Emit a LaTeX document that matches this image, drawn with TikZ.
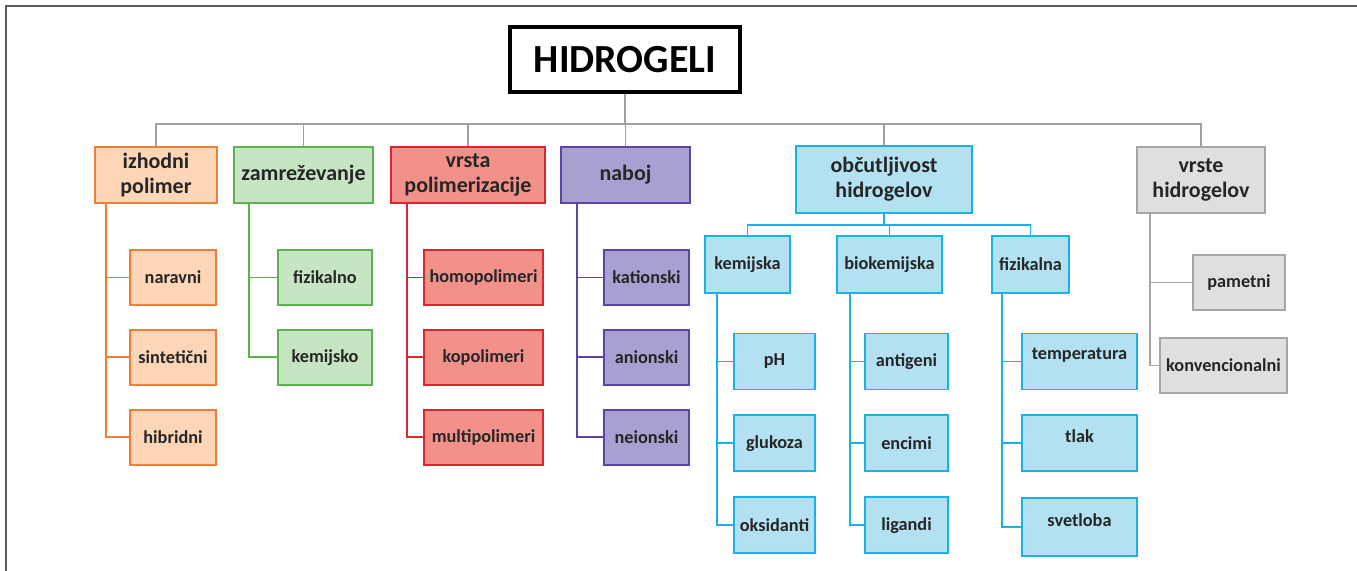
\documentclass[tikz,border=0pt]{standalone}
\usepackage{fontspec}
\setmainfont{Carlito}
\usepackage{tikz}
\usetikzlibrary{positioning,calc}

\definecolor{orgline}{HTML}{EF7D3A}
\definecolor{orgfill}{HTML}{FCD6B6}
\definecolor{grnline}{HTML}{5DB14E}
\definecolor{grnfill}{HTML}{C6E5C3}
\definecolor{redline}{HTML}{D7282F}
\definecolor{redfill}{HTML}{F2918A}
\definecolor{purline}{HTML}{5F43A6}
\definecolor{purfill}{HTML}{A9A0D2}
\definecolor{bluline}{HTML}{1AB2E6}
\definecolor{blufill}{HTML}{B3E1F1}
\definecolor{gryline}{HTML}{A5A5A5}
\definecolor{gryfill}{HTML}{DFDFDF}
\definecolor{busline}{HTML}{A0A0A0}
\definecolor{frameline}{HTML}{5A5A5A}
\definecolor{txt}{HTML}{262626}

\begin{document}
\begin{tikzpicture}[
  x=0.02cm, y=-0.02cm,
  every node/.style={font=\bfseries\fontsize{10.4}{12}\selectfont, text=txt},
  box/.style={draw, rectangle, line width=1.1pt, align=center, inner sep=1pt},
  head/.style={box, font=\bfseries\fontsize{12.5}{14.2}\selectfont, minimum height=1.12cm},
  leaf/.style={box, minimum height=1.1cm},
  upleaf/.style={leaf, text depth=0.3cm},
  conn/.style={line width=1.1pt}
]
\useasboundingbox (0,0) rectangle (1357,571);
\draw[frameline, line width=1.3pt] (6,571) -- (6,6) -- (1357,6);

% root
\node[draw, rectangle, line width=1.8pt, minimum width=4.6cm, minimum height=1.3cm,
  font=\bfseries\fontsize{22.7}{26}\selectfont, text=black] (root) at (625,59.5) {HIDROGELI};

% second level
\node[head, draw=orgline, fill=orgfill, minimum width=2.44cm] (izhodni) at (156,175) {izhodni\\polimer};
\node[head, draw=grnline, fill=grnfill, minimum width=2.78cm] (zamrez) at (303.5,175) {zamreževanje};
\node[head, draw=redline, fill=redfill, minimum width=3.08cm] (vrsta) at (468,175) {vrsta\\polimerizacije};
\node[head, draw=purline, fill=purfill, minimum width=2.58cm] (naboj) at (625.5,175) {naboj};
\node[head, draw=bluline, fill=blufill, minimum width=3.52cm, minimum height=1.34cm] (obcut) at (884,179.5) {občutljivost\\hidrogelov};
\node[head, draw=gryline, fill=gryfill, minimum width=2.56cm, minimum height=1.32cm] (vrste) at (1201,180) {vrste\\hidrogelov};

% izhodni polimer
\node[leaf, draw=orgline, fill=orgfill, minimum width=1.72cm] (naravni) at (173,277.5) {naravni};
\node[leaf, draw=orgline, fill=orgfill, minimum width=1.72cm, below=0.46cm of naravni] (sinteticni) {sintetični};
\node[leaf, draw=orgline, fill=orgfill, minimum width=1.72cm, below=0.46cm of sinteticni] (hibridni) {hibridni};

% zamrezevanje
\node[leaf, draw=grnline, fill=grnfill, minimum width=1.88cm] (fizikalno) at (325,277.5) {fizikalno};
\node[leaf, draw=grnline, fill=grnfill, minimum width=1.88cm, below=0.46cm of fizikalno] (kemijsko) {kemijsko};

% vrsta polimerizacije
\node[leaf, draw=redline, fill=redfill, minimum width=2.38cm] (homo) at (483.5,277.5) {homopolimeri};
\node[leaf, draw=redline, fill=redfill, minimum width=2.38cm, below=0.46cm of homo] (kopo) {kopolimeri};
\node[leaf, draw=redline, fill=redfill, minimum width=2.38cm, below=0.46cm of kopo] (multi) {multipolimeri};

% naboj
\node[leaf, draw=purline, fill=purfill, minimum width=1.7cm] (kation) at (646.5,277.5) {kationski};
\node[leaf, draw=purline, fill=purfill, minimum width=1.7cm, below=0.46cm of kation] (anion) {anionski};
\node[leaf, draw=purline, fill=purfill, minimum width=1.7cm, below=0.46cm of anion] (neion) {neionski};

% obcutljivost
\node[leaf, draw=bluline, fill=blufill, minimum width=1.7cm, minimum height=1.14cm] (kemijska) at (747.5,264.5) {kemijska};
\node[leaf, draw=bluline, fill=blufill, minimum width=2.1cm, minimum height=1.14cm] (biokem) at (889.5,264.5) {biokemijska};
\node[leaf, draw=bluline, fill=blufill, minimum width=1.54cm, minimum height=1.14cm] (fizikalna) at (1030.5,264.5) {fizikalna};

\node[leaf, draw=bluline, fill=blufill, minimum width=1.62cm, minimum height=1.12cm] (ph) at (774.5,361.5) {pH};
\node[leaf, draw=bluline, fill=blufill, minimum width=1.62cm, minimum height=1.12cm, below=0.48cm of ph] (glukoza) {glukoza};
\node[leaf, draw=bluline, fill=blufill, minimum width=1.62cm, minimum height=1.12cm, below=0.48cm of glukoza] (oksid) {oksidanti};

\node[leaf, draw=bluline, fill=blufill, minimum width=1.66cm, minimum height=1.12cm] (antigeni) at (906.5,361.5) {antigeni};
\node[leaf, draw=bluline, fill=blufill, minimum width=1.66cm, minimum height=1.12cm, below=0.48cm of antigeni] (encimi) {encimi};
\node[leaf, draw=bluline, fill=blufill, minimum width=1.66cm, minimum height=1.12cm, below=0.48cm of encimi] (ligandi) {ligandi};

\node[upleaf, draw=bluline, fill=blufill, minimum width=2.3cm, minimum height=1.12cm] (temp) at (1079.5,361.5) {temperatura};
\node[upleaf, draw=bluline, fill=blufill, minimum width=2.3cm, minimum height=1.12cm, below=0.48cm of temp] (tlak) {tlak};
\node[upleaf, draw=bluline, fill=blufill, minimum width=2.3cm, minimum height=1.16cm, below=0.5cm of tlak] (svetloba) {svetloba};

% vrste hidrogelov
\node[leaf, draw=gryline, fill=gryfill, minimum width=1.84cm] (pametni) at (1239,282.5) {pametni};
\node[leaf, draw=gryline, fill=gryfill, minimum width=2.54cm] (konv) at (1223.5,365.5) {konvencionalni};

% top bus
\coordinate (bus) at (625,124);
\draw[busline, conn] (root.south) -- (bus);
\draw[busline, conn] (bus) -| (izhodni.north);
\draw[busline, conn] (bus) -| (zamrez.north);
\draw[busline, conn] (bus) -| (vrsta.north);
\draw[busline, conn] (bus) -| (naboj.north);
\draw[busline, conn] (bus) -| (obcut.north);
\draw[busline, conn] (bus) -| (vrste.north);

% branches
\draw[orgline, conn] ([xshift=0.24cm]izhodni.south west) |- (naravni.west);
\draw[orgline, conn] ([xshift=0.24cm]izhodni.south west) |- (sinteticni.west);
\draw[orgline, conn] ([xshift=0.24cm]izhodni.south west) |- (hibridni.west);

\draw[grnline, conn] ([xshift=0.32cm]zamrez.south west) |- (fizikalno.west);
\draw[grnline, conn] ([xshift=0.32cm]zamrez.south west) |- (kemijsko.west);

\draw[redline, conn] ([xshift=0.34cm]vrsta.south west) |- (homo.west);
\draw[redline, conn] ([xshift=0.34cm]vrsta.south west) |- (kopo.west);
\draw[redline, conn] ([xshift=0.34cm]vrsta.south west) |- (multi.west);

\draw[purline, conn] ([xshift=0.34cm]naboj.south west) |- (kation.west);
\draw[purline, conn] ([xshift=0.34cm]naboj.south west) |- (anion.west);
\draw[purline, conn] ([xshift=0.34cm]naboj.south west) |- (neion.west);

\coordinate (bluebus) at (884,225);
\draw[bluline, conn] (obcut.south) -- (bluebus);
\draw[bluline, conn] (bluebus) -| (kemijska.north);
\draw[bluline, conn] (bluebus) -| (biokem.north);
\draw[bluline, conn] (bluebus) -| (fizikalna.north);

\draw[bluline, conn] ([xshift=0.26cm]kemijska.south west) |- (ph.west);
\draw[bluline, conn] ([xshift=0.26cm]kemijska.south west) |- (glukoza.west);
\draw[bluline, conn] ([xshift=0.26cm]kemijska.south west) |- (oksid.west);

\draw[bluline, conn] ([xshift=0.28cm]biokem.south west) |- (antigeni.west);
\draw[bluline, conn] ([xshift=0.28cm]biokem.south west) |- (encimi.west);
\draw[bluline, conn] ([xshift=0.28cm]biokem.south west) |- (ligandi.west);

\draw[bluline, conn] ([xshift=0.22cm]fizikalna.south west) |- (temp.west);
\draw[bluline, conn] ([xshift=0.22cm]fizikalna.south west) |- (tlak.west);
\draw[bluline, conn] ([xshift=0.22cm]fizikalna.south west) |- (svetloba.west);

\draw[gryline, conn] ([xshift=0.28cm]vrste.south west) |- (pametni.west);
\draw[gryline, conn] ([xshift=0.28cm]vrste.south west) |- (konv.west);
\end{tikzpicture}
\end{document}
